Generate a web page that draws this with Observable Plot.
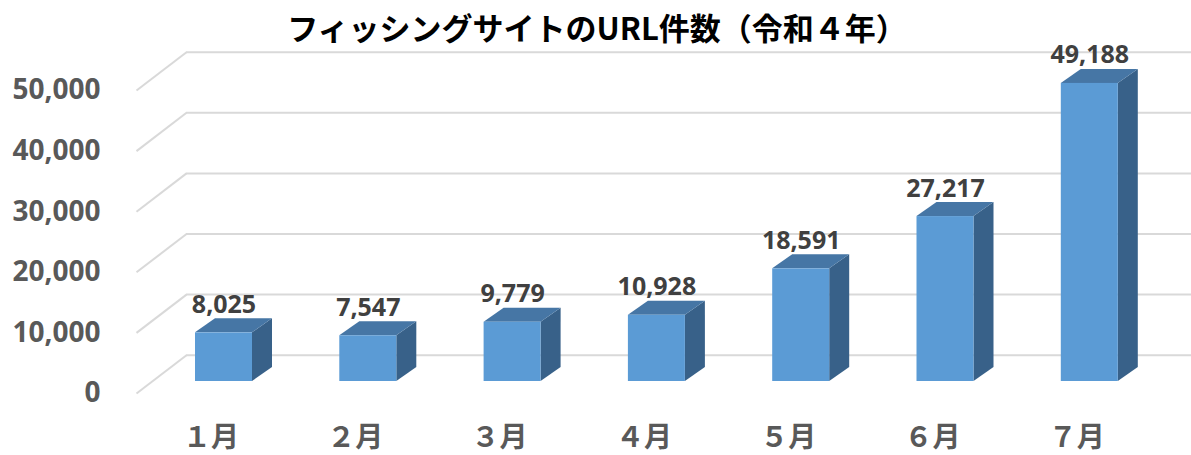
<!DOCTYPE html>
<html><head><meta charset="utf-8">
<script src="https://cdn.jsdelivr.net/npm/d3@7"></script>
<script src="https://cdn.jsdelivr.net/npm/@observablehq/plot@0.6"></script>
<style>html,body{margin:0;padding:0;background:#fff;overflow:hidden}</style>
</head><body><div id="chart"></div>
<script>
// ---- data ----
const months = ["１月", "２月", "３月", "４月", "５月", "６月", "７月"];
const counts = [8025, 7547, 9779, 10928, 18591, 27217, 49188];
const yTicks = [0, 10000, 20000, 30000, 40000, 50000];
const title = "フィッシングサイトのURL件数（令和４年）";

// ---- geometry (scale units) ----
const W = 1191, H = 455;
const xRange = [223.5, 1089.3];           // pixel centres of first / last bar
const yRange = [381, 78];                 // pixel of 0 / 50000 on bar plane
const pxPerIdx = (xRange[1] - xRange[0]) / (months.length - 1);
const valPerPx = 50000 / (yRange[0] - yRange[1]);
const hw = 28.5 / pxPerIdx;               // half bar width
const depX = 20 / pxPerIdx, depY = 14 * valPerPx;   // bar depth
const backOff = 26.3 * valPerPx;          // back wall offset
const frontOff = 12 * valPerPx;           // front (label) plane offset
const xBackLeft = (186 - xRange[0]) / pxPerIdx;
const xFrontLeft = (136 - xRange[0]) / pxPerIdx;
const xRight = (W + 2 - xRange[0]) / pxPerIdx;
const xTickLabel = (100 - xRange[0]) / pxPerIdx;

const bars = months.map((m, i) => ({m, i, v: counts[i]}));
const sidePts = bars.flatMap(d => [
  {bar: d.i, x: d.i + hw, y1: 0, y2: d.v},
  {bar: d.i, x: d.i + hw + depX, y1: depY, y2: d.v + depY}
]);
const topPts = bars.flatMap(d => [
  {bar: d.i, y: d.v, x1: d.i - hw, x2: d.i + hw},
  {bar: d.i, y: d.v + depY, x1: d.i - hw + depX, x2: d.i + hw + depX}
]);
const fmt = d3.format(",");
const numFont = "'Open Sans', 'Noto Sans CJK JP', sans-serif";
const cjkFont = "'Noto Sans CJK JP', sans-serif";

const chart = Plot.plot({
  width: W, height: H,
  margin: 0,
  style: {background: "#fff", overflow: "visible"},
  x: {type: "linear", domain: [0, months.length - 1], range: xRange, axis: null},
  y: {type: "linear", domain: [0, 50000], range: yRange, axis: null},
  marks: [
    // back wall gridlines
    Plot.ruleY(yTicks, {y: d => d + backOff, x1: xBackLeft, x2: xRight, stroke: "#D9D9D9", strokeWidth: 2}),
    // side wall diagonals
    Plot.link(yTicks, {x1: xBackLeft, y1: d => d + backOff, x2: xFrontLeft, y2: d => d - frontOff, stroke: "#D9D9D9", strokeWidth: 2}),
    // bars: side, top, front
    Plot.areaY(sidePts, {x: "x", y1: "y1", y2: "y2", z: "bar", fill: "#386189"}),
    Plot.areaX(topPts, {y: "y", x1: "x1", x2: "x2", z: "bar", fill: "#4676A5"}),
    Plot.rect(bars, {x1: d => d.i - hw, x2: d => d.i + hw, y1: 0, y2: "v", fill: "#5B9BD5"}),
    // data labels
    Plot.text(bars, {x: "i", y: d => d.v + depY, dy: -6, text: d => fmt(d.v), lineAnchor: "bottom",
      fontSize: 25, fontWeight: "bold", fill: "#404040", fontFamily: numFont}),
    // y tick labels
    Plot.text(yTicks, {x: xTickLabel, y: d => d - frontOff, text: d => fmt(d), textAnchor: "end", lineAnchor: "middle",
      fontSize: 28, fontWeight: "bold", fill: "#595959", fontFamily: numFont}),
    // x labels
    Plot.text(bars, {x: "i", y: 0, dy: 57, dx: -13, text: "m", lineAnchor: "middle",
      fontSize: 28, fontWeight: "bold", fill: "#595959", fontFamily: cjkFont}),
    // title
    Plot.text([title], {frameAnchor: "top", dy: 30, dx: 1, lineAnchor: "middle",
      fontSize: 31, fontWeight: "bold", fill: "#000", fontFamily: cjkFont})
  ]
});
document.getElementById("chart").appendChild(chart);
</script>
</body></html>
